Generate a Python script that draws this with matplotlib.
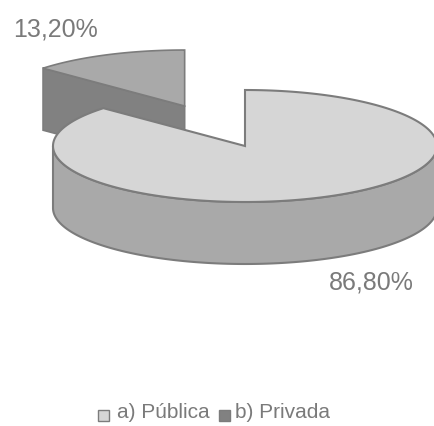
import matplotlib
matplotlib.use('Agg')
import matplotlib.pyplot as plt
from matplotlib.patches import Rectangle
import numpy as np

labels = ['a) Pública', 'b) Privada']
shares = [86.8, 13.2]
value_labels = ['86,80%', '13,20%']

top_colors = ['#d6d6d6', '#a9a9a9']
side_colors = ['#a9a9a9', '#818181']
edge_color = '#7c7c7c'
text_color = '#7a7a7a'

plt.rcParams['font.family'] = ['Liberation Sans', 'DejaVu Sans']

# pie geometry in pixels
cx, cy = 245, 147
rx, ry = 192, 56
depth = 62
explode = 0.78


def rim(a0, a1, x0, y0):
    t = np.radians(np.linspace(a0, a1, 200))
    return x0 + rx * np.cos(t), y0 - ry * np.sin(t)


fig = plt.figure(figsize=(4.35, 4.27), dpi=100)
ax = fig.add_axes([0, 0, 1, 1])
ax.set_xlim(0, 435)
ax.set_ylim(427, 0)
ax.axis('off')

# clockwise from 12 o'clock
a_start = 90
a_main = a_start - shares[0] / sum(shares) * 360

# exploded slice first, it sits behind the big one
a_mid = np.radians((a_main + 360 + 90) / 2)
a0, a1 = a_start, a_main + 360
sx = cx + explode * rx * np.cos(a_mid)
sy = cy - explode * ry * np.sin(a_mid)
xr, yr = rim(a0, a1, sx, sy)
ax.fill([sx, xr[-1], xr[-1], sx], [sy, yr[-1], yr[-1] + depth, sy + depth],
        fc=side_colors[1], ec=edge_color, lw=1.2, zorder=1)
ax.fill(np.r_[sx, xr], np.r_[sy, yr], fc=top_colors[1], ec=edge_color, lw=1.2, zorder=2)

# big slice, wall then top
xm, ym = rim(180, 360, cx, cy)
ax.fill(np.r_[xm, xm[::-1]], np.r_[ym, ym[::-1] + depth],
        fc=side_colors[0], ec=edge_color, lw=1.5, zorder=3)
xt, yt = rim(a_main, a_start, cx, cy)
ax.fill(np.r_[cx, xt], np.r_[cy, yt], fc=top_colors[0], ec=edge_color, lw=1.5, zorder=4)

ax.text(13, 30, value_labels[1], fontsize=18, color=text_color, ha='left', va='center')
ax.text(329, 283, value_labels[0], fontsize=18, color=text_color, ha='left', va='center')

# legend by hand, the squares sit below the text line
for x_box, x_text, fc, label in zip([98, 219], [117, 235], [top_colors[0], side_colors[1]], labels):
    ax.add_patch(Rectangle((x_box, 411), 11, 11, fc=fc, ec=edge_color, lw=1.0))
    ax.text(x_text, 413, label, fontsize=15, color=text_color, ha='left', va='center')

fig.savefig('out.png', dpi=100)
